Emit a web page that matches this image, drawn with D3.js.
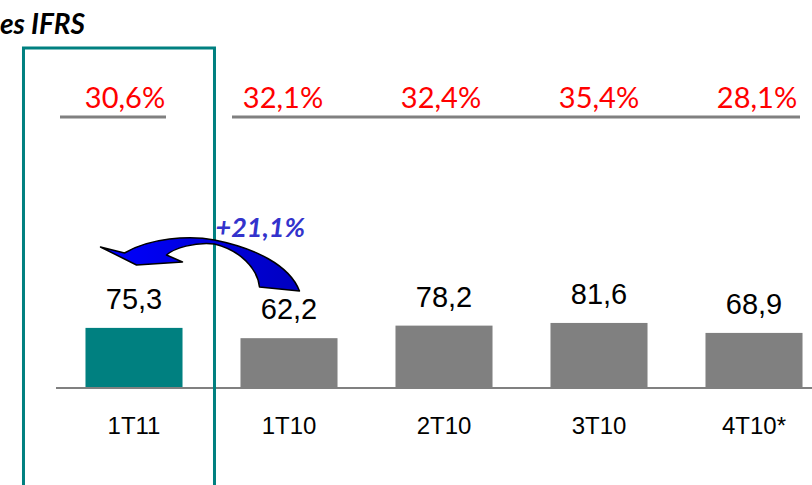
<!DOCTYPE html>
<html>
<head>
<meta charset="utf-8">
<script src="https://cdn.jsdelivr.net/npm/d3@7/dist/d3.min.js"></script>
<style>
  body { margin: 0; background: #fff; }
  svg { display: block; }
</style>
</head>
<body>
<svg id="chart" width="812" height="485"></svg>
<script>
// quarters, values and margins
var categories = ['1T11', '1T10', '2T10', '3T10', '4T10*'];
var values = [75.3, 62.2, 78.2, 81.6, 68.9];
var margins = ['30,6%', '32,1%', '32,4%', '35,4%', '28,1%'];
var growthLabel = '+21,1%';

var svg = d3.select('#chart'),
    width = +svg.attr('width'),
    height = +svg.attr('height');

var fmt = function(v) { return d3.format('.1f')(v).replace('.', ','); };

var baseline = 387;

var x = d3.scaleBand()
    .domain(categories)
    .range([56.5, 831.5])
    .paddingInner(0.374)
    .paddingOuter(0.187);

var y = d3.scaleLinear()
    .domain([0, 100])
    .range([baseline, baseline - 78.5]);

// margin row sits on its own grid
var xp = d3.scaleBand()
    .domain(categories)
    .range([46, 836]);

// title, clipped at the left edge like the slide
svg.append('text')
  .attr('x', 85)
  .attr('y', 34)
  .attr('text-anchor', 'end')
  .style('font-family', 'Lato, "Open Sans", sans-serif')
  .style('font-weight', 'bold')
  .style('font-style', 'italic')
  .style('font-size', '28px')
  .attr('fill', '#000')
  .text('es IFRS');

// margin labels
svg.selectAll('.margin')
  .data(margins)
  .enter().append('text')
  .attr('class', 'margin')
  .attr('x', function(d, i) { return xp(categories[i]) + xp.bandwidth() / 2; })
  .attr('y', 108)
  .attr('text-anchor', 'middle')
  .style('font-family', 'Lato, "Open Sans", sans-serif')
  .style('font-size', '29px')
  .attr('fill', '#ff0000')
  .text(function(d) { return d; });

// underlines of the margin row
var ulines = [
  [xp(categories[0]) + 14, xp(categories[0]) + 120],
  [xp(categories[1]) + 28, xp(categories[4]) + 122]
];
svg.selectAll('.uline')
  .data(ulines)
  .enter().append('line')
  .attr('x1', function(d) { return d[0]; })
  .attr('x2', function(d) { return d[1]; })
  .attr('y1', 117).attr('y2', 117)
  .attr('stroke', '#808080')
  .attr('stroke-width', 3);

// bars
svg.selectAll('.bar')
  .data(values)
  .enter().append('rect')
  .attr('class', 'bar')
  .attr('x', function(d, i) { return x(categories[i]); })
  .attr('y', function(d) { return y(d); })
  .attr('width', x.bandwidth())
  .attr('height', function(d) { return y(0) - y(d); })
  .attr('fill', function(d, i) { return i === 0 ? '#008080' : '#808080'; });

// axis line
svg.append('line')
  .attr('x1', 56).attr('x2', width)
  .attr('y1', y(0) + 1).attr('y2', y(0) + 1)
  .attr('stroke', '#808080')
  .attr('stroke-width', 2);

// value labels
svg.selectAll('.val')
  .data(values)
  .enter().append('text')
  .attr('class', 'val')
  .attr('x', function(d, i) { return x(categories[i]) + x.bandwidth() / 2; })
  .attr('y', function(d) { return y(d) - 19; })
  .attr('text-anchor', 'middle')
  .style('font-family', '"Liberation Sans", Arial, sans-serif')
  .style('font-size', '29px')
  .attr('fill', '#000')
  .text(function(d) { return fmt(d); });

// category labels
svg.selectAll('.cat')
  .data(categories)
  .enter().append('text')
  .attr('class', 'cat')
  .attr('x', function(d) { return x(d) + x.bandwidth() / 2; })
  .attr('y', 434)
  .attr('text-anchor', 'middle')
  .style('font-family', '"Liberation Sans", Arial, sans-serif')
  .style('font-size', '24px')
  .attr('fill', '#000')
  .text(function(d) { return d; });

// highlight frame around the current quarter
var hx0 = x(categories[0]) - 62,
    hx1 = x(categories[1]) - 26;
svg.append('rect')
  .attr('x', hx0)
  .attr('y', 48)
  .attr('width', hx1 - hx0)
  .attr('height', 460)
  .attr('fill', 'none')
  .attr('stroke', '#008080')
  .attr('stroke-width', 3);

// curved arrow from 1T10 back to 1T11
var ax = hx1, ay = 242;
var p = d3.path();
p.moveTo(ax - 114, ay + 5);
p.lineTo(ax - 90, ay + 11);
p.bezierCurveTo(ax - 65, ay - 4, ax - 25, ay - 7, ax, ay - 2);
p.bezierCurveTo(ax + 40, ay + 6, ax + 75, ay + 23, ax + 85, ay + 49);
p.lineTo(ax + 45, ay + 45);
p.bezierCurveTo(ax + 43, ay + 26, ax + 25, ay + 8, ax, ay + 2);
p.bezierCurveTo(ax - 20, ay, ax - 40, ay + 6, ax - 48, ay + 13);
p.lineTo(ax - 32, ay + 20);
p.lineTo(ax - 78, ay + 23);
p.closePath();

var grad = svg.append('defs').append('linearGradient')
  .attr('id', 'arrowfill')
  .attr('x1', '0%').attr('x2', '100%');
grad.append('stop').attr('offset', '0%').attr('stop-color', '#0000ff');
grad.append('stop').attr('offset', '100%').attr('stop-color', '#0000c0');

svg.append('path')
  .attr('d', p.toString())
  .attr('fill', 'url(#arrowfill)')
  .attr('stroke', '#000')
  .attr('stroke-width', 1.5)
  .attr('stroke-linejoin', 'round');

svg.append('text')
  .attr('x', ax + 1)
  .attr('y', 237)
  .style('font-family', 'Lato, "Open Sans", sans-serif')
  .style('font-weight', 'bold')
  .style('font-style', 'italic')
  .style('font-size', '27px')
  .attr('fill', '#3333cc')
  .text(growthLabel);
</script>
</body>
</html>
